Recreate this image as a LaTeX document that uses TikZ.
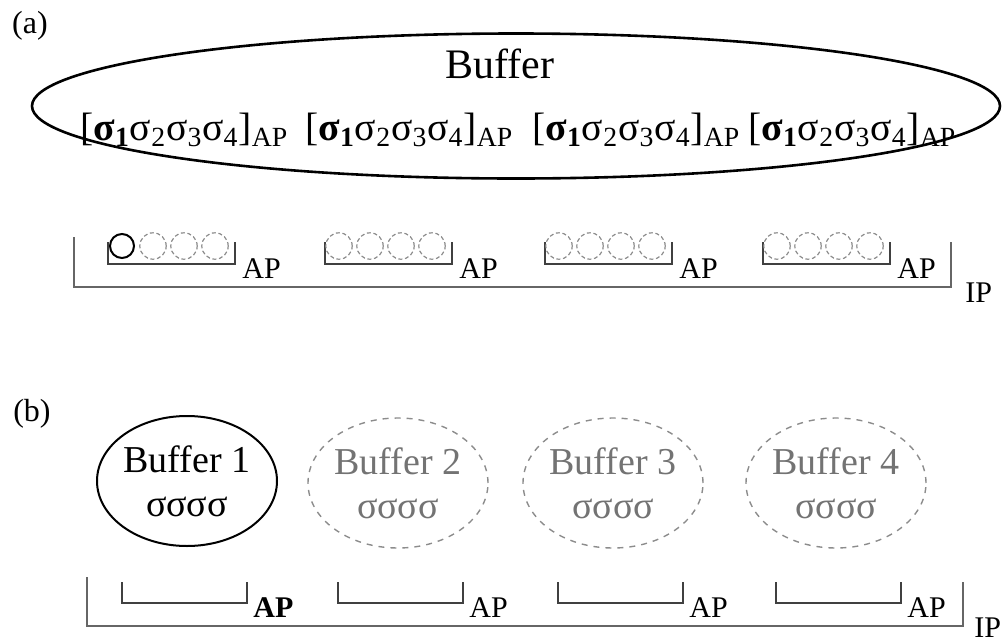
\documentclass[tikz,border=0pt]{standalone}
\usepackage{fontspec}
\setmainfont{Liberation Serif}
\usetikzlibrary{shapes.geometric}

\newcommand\sigrow{[\textbf{σ\textsubscript{1}}σ\textsubscript{2}σ\textsubscript{3}σ\textsubscript{4}]\textsubscript{AP}}

\begin{document}
\begin{tikzpicture}[x=0.5pt,y=-0.5pt,
  big/.style={font=\fontsize{19}{22}\selectfont},
  small/.style={font=\fontsize{15}{18}\selectfont,anchor=base west,inner sep=0pt},
  brk/.style={black!75,line width=0.9pt},
  iplin/.style={black!60,line width=1pt},
  dcirc/.style={black!45,dash pattern=on 2pt off 1.3pt,line width=0.6pt},
  buf/.style={ellipse,inner sep=0pt,minimum width=90pt,minimum height=65pt,align=center,big},
  offbuf/.style={buf,draw=black!45,dashed,line width=0.7pt,text=black!55}]
\useasboundingbox (0,0) rectangle (1002,643);

% (a)
\node[font=\fontsize{16}{19}\selectfont,anchor=base] (la) at (30,33) {(a)};
\node[draw,ellipse,line width=1.3pt,minimum width=484pt,minimum height=72.5pt] (bigbuf) at (516,106) {};
\node[font=\fontsize{21}{24}\selectfont,anchor=base] (buftxt) at (500,78) {Buffer};
\foreach \x [count=\i] in {80,305,532,748}
  \node[font=\fontsize{19.8}{22}\selectfont,anchor=base west,inner sep=0pt] (seq\i) at (\x,140) {\sigrow};

\draw[iplin] (74,237) -- (74,287) -- (951,287) -- (951,242);
\node[small] (ipa) at (965,302) {IP};
\foreach \x [count=\i] in {108,325,545,763}{
  \draw[brk] (\x,242) -- (\x,264) -- (\x+127,264) -- (\x+127,242);
  \node[small] (apa\i) at (\x+134,278) {AP};
  \foreach \k in {0,...,3}{
    \ifnum\i\k=10 \draw[line width=1pt] (\x+14+\k*31,246) circle[radius=6pt];
    \else \draw[dcirc] (\x+14+\k*31,246) circle[radius=6.6pt];\fi
  }
}

% (b)
\node[font=\fontsize{16}{19}\selectfont,anchor=base] (lb) at (32,421) {(b)};
\node[buf,draw,line width=1pt] (b1) at (187,481) {Buffer 1\\σσσσ};
\foreach \x [count=\i from 2] in {398,613,836}
  \node[offbuf] (b\i) at (\x,483) {Buffer \i\\σσσσ};

\draw[iplin] (87,577) -- (87,626) -- (963,626) -- (963,582);
\node[small] (ipb) at (974,637) {IP};
\foreach \x [count=\i] in {122,338,558,776}{
  \draw[brk] (\x,582) -- (\x,603) -- (\x+125,603) -- (\x+125,582);
  \node[small] (apb\i) at (\x+131,617) {\ifnum\i=1 \bfseries\fi AP};
}
\end{tikzpicture}
\end{document}
